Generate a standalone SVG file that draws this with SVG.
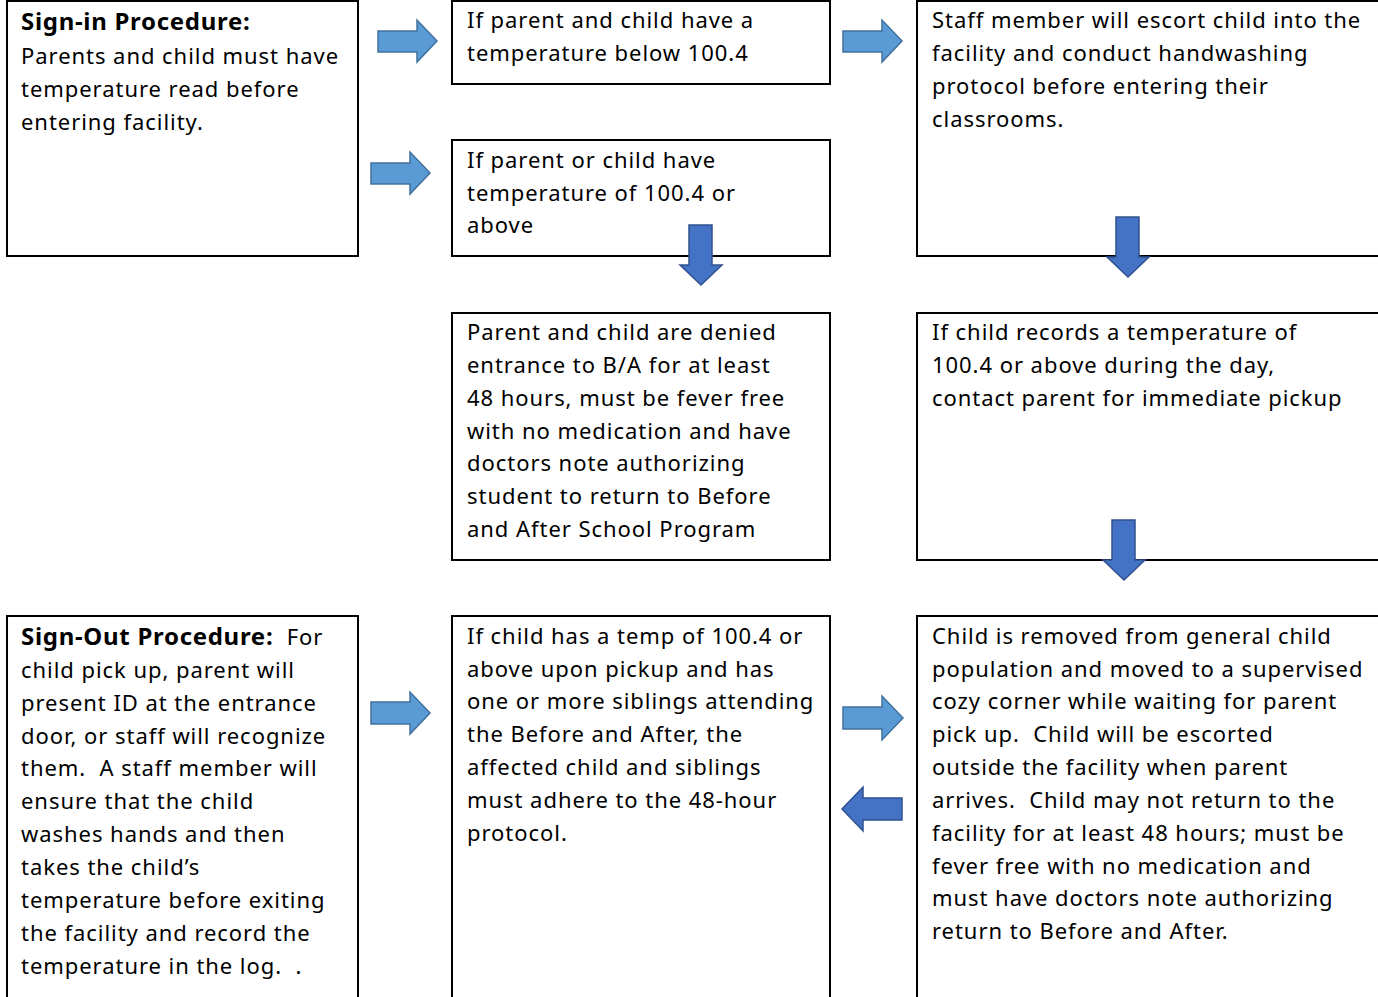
<svg xmlns="http://www.w3.org/2000/svg" width="1378" height="997" viewBox="0 0 1378 997">
<style>
.box{fill:#fff;stroke:#000;stroke-width:2}
text{font-family:"Noto Sans","DejaVu Sans",sans-serif;font-size:22px;fill:#000;letter-spacing:0.95px;white-space:pre}
.h{font-weight:bold;font-size:24px;letter-spacing:0.7px}
.al{fill:#5B9BD5;stroke:#41719C;stroke-width:1.5}
.ad{fill:#4472C4;stroke:#2F528F;stroke-width:1.5}
</style>
<rect width="1378" height="997" fill="#fff"/>
<g id="n1"><rect class="box" x="7" y="1" width="351" height="255"/>
<text x="21"><tspan class="h" y="30">Sign-in Procedure:</tspan><tspan x="21" y="64">Parents and child must have</tspan><tspan x="21" y="97">temperature read before</tspan><tspan x="21" y="130">entering facility.</tspan></text></g>
<g id="n2"><rect class="box" x="452" y="1" width="378" height="83"/>
<text x="467"><tspan x="467" y="28">If parent and child have a</tspan><tspan x="467" y="61">temperature below 100.4</tspan></text></g>
<g id="n3"><rect class="box" x="452" y="140" width="378" height="116"/>
<text><tspan x="467" y="168">If parent or child have</tspan><tspan x="467" y="201">temperature of 100.4 or</tspan><tspan x="467" y="233">above</tspan></text></g>
<g id="n4"><rect class="box" x="917" y="1" width="470" height="255"/>
<text><tspan x="932" y="28">Staff member will escort child into the</tspan><tspan x="932" y="61">facility and conduct handwashing</tspan><tspan x="932" y="94">protocol before entering their</tspan><tspan x="932" y="127">classrooms.</tspan></text></g>
<g id="n5"><rect class="box" x="452" y="313" width="378" height="247"/>
<text><tspan x="467" y="340">Parent and child are denied</tspan><tspan x="467" y="373">entrance to B/A for at least</tspan><tspan x="467" y="406">48 hours, must be fever free</tspan><tspan x="467" y="439">with no medication and have</tspan><tspan x="467" y="471">doctors note authorizing</tspan><tspan x="467" y="504">student to return to Before</tspan><tspan x="467" y="537">and After School Program</tspan></text></g>
<g id="n6"><rect class="box" x="917" y="313" width="470" height="247"/>
<text><tspan x="932" y="340">If child records a temperature of</tspan><tspan x="932" y="373">100.4 or above during the day,</tspan><tspan x="932" y="406">contact parent for immediate pickup</tspan></text></g>
<g id="n7"><rect class="box" x="7" y="616" width="351" height="400"/>
<text><tspan x="21" y="645"><tspan class="h">Sign-Out Procedure:</tspan>  For</tspan><tspan x="21" y="678">child pick up, parent will</tspan><tspan x="21" y="711">present ID at the entrance</tspan><tspan x="21" y="744">door, or staff will recognize</tspan><tspan x="21" y="776">them.  A staff member will</tspan><tspan x="21" y="809">ensure that the child</tspan><tspan x="21" y="842">washes hands and then</tspan><tspan x="21" y="875">takes the child’s</tspan><tspan x="21" y="908">temperature before exiting</tspan><tspan x="21" y="941">the facility and record the</tspan><tspan x="21" y="974">temperature in the log.  .</tspan></text></g>
<g id="n8"><rect class="box" x="452" y="616" width="378" height="400"/>
<text><tspan x="467" y="644">If child has a temp of 100.4 or</tspan><tspan x="467" y="677">above upon pickup and has</tspan><tspan x="467" y="709">one or more siblings attending</tspan><tspan x="467" y="742">the Before and After, the</tspan><tspan x="467" y="775">affected child and siblings</tspan><tspan x="467" y="808">must adhere to the 48-hour</tspan><tspan x="467" y="841">protocol.</tspan></text></g>
<g id="n9"><rect class="box" x="917" y="616" width="470" height="400"/>
<text><tspan x="932" y="644">Child is removed from general child</tspan><tspan x="932" y="677">population and moved to a supervised</tspan><tspan x="932" y="709">cozy corner while waiting for parent</tspan><tspan x="932" y="742">pick up.  Child will be escorted</tspan><tspan x="932" y="775">outside the facility when parent</tspan><tspan x="932" y="808">arrives.  Child may not return to the</tspan><tspan x="932" y="841">facility for at least 48 hours; must be</tspan><tspan x="932" y="874">fever free with no medication and</tspan><tspan x="932" y="906">must have doctors note authorizing</tspan><tspan x="932" y="939">return to Before and After.</tspan></text></g>
<g id="connectors">
<polygon class="al" points="378,31 417,31 417,20 437,41 417,62 417,52 378,52"/>
<polygon class="al" points="371,163 410,163 410,152 430,173 410,194 410,184 371,184"/>
<polygon class="al" points="843,31 882,31 882,20 902,41 882,62 882,52 843,52"/>
<polygon class="ad" points="689,225 712,225 712,265 722,265 701,285 680,265 689,265"/>
<polygon class="ad" points="1116,217 1139,217 1139,257 1149,257 1128,277 1107,257 1116,257"/>
<polygon class="ad" points="1112,520 1135,520 1135,560 1145,560 1124,580 1103,560 1112,560"/>
<polygon class="al" points="371,702 410,702 410,692 430,713 410,734 410,724 371,724"/>
<polygon class="al" points="843,707 882,707 882,696 903,718 882,740 882,729 843,729"/>
<polygon class="ad" points="902,798 863,798 863,787 842,809 863,831 863,820 902,820"/>
</g>
</svg>
